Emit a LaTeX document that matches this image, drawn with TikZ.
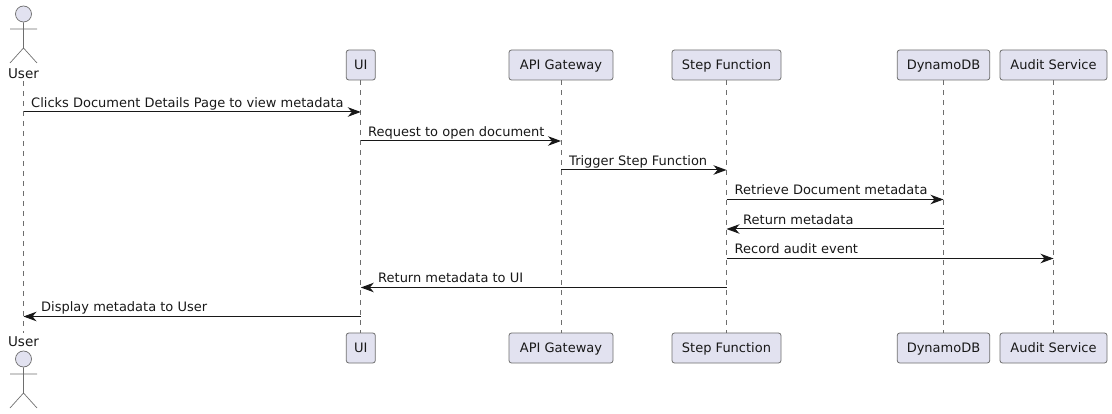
\documentclass[tikz,border=0pt]{standalone}
\usepackage{fontspec}
\setmainfont{DejaVu Sans}
\usetikzlibrary{arrows.meta}
\definecolor{pfill}{HTML}{E2E2F0}
\definecolor{pline}{HTML}{6E6E6E}
\definecolor{ink}{HTML}{181818}
\tikzset{
  x=1pt,y=-1pt,
  part/.style={draw=pline,fill=pfill,rounded corners=2.5pt,line width=0.8pt,minimum height=30pt,inner sep=0pt,text=ink,font=\fontsize{13}{15}\selectfont,text height=9.5pt,text depth=0pt},
  life/.style={draw=pline,line width=0.7pt,dash pattern=on 5pt off 5pt},
  msg/.style={draw=ink,line width=1pt,-{Stealth[length=13pt,width=9.5pt,inset=4pt]}},
  lbl/.style={anchor=base west,inner sep=0pt,text=ink,font=\fontsize{13}{15}\selectfont},
  stick/.style={draw=pline,line width=0.7pt},
  head/.style={draw=pline,fill=pfill,line width=0.7pt,circle,minimum size=16pt,inner sep=0pt},
  aname/.style={inner sep=0pt,text=ink,font=\fontsize{13.5}{15}\selectfont,anchor=base},
}
\begin{document}
\begin{tikzpicture}
\useasboundingbox (0,0) rectangle (1112,414);
\coordinate (ut) at (23.5,81);
\coordinate (ub) at (23.5,333);
\foreach \n/\xc/\w/\t in {ui/360.8/29/UI,api/561/104/API Gateway,sf/726.5/109/Step Function,db/943.5/92.5/DynamoDB,au/1053.5/107/Audit Service}{
  \node[part,minimum width=\w pt] (\n t) at (\xc,65) {\t};
  \node[part,minimum width=\w pt] (\n b) at (\xc,348) {\t};
}
\draw[life] (ut) -- (ub);
\foreach \n in {ui,api,sf,db,au}{\draw[life] (\n t.south) -- (\n b.north);}
% actors
\node[aname] (user1) at (23.5,78.5) {User};
\node[aname] (user2) at (23.5,346.5) {User};
\node[head] (h1) at (23.5,14) {};
\node[head] (h2) at (23.5,359) {};
\coordinate (b1) at (23.5,48);
\coordinate (b2) at (23.5,393);
\draw[stick] (h1.south) -- (b1) (10,29) -- (37,29) (10,63) -- (b1) -- (37,63);
\draw[stick] (h2.south) -- (b2) (10,374) -- (37,374) (10,408) -- (b2) -- (37,408);
% messages
\coordinate (m1a) at (ut |- 0,112);
\draw[msg] (m1a) -- (uit.south |- m1a);
\coordinate (m2a) at (uit.south |- 0,141);
\draw[msg] (m2a) -- (apit.south |- m2a);
\coordinate (m3a) at (apit.south |- 0,170);
\draw[msg] (m3a) -- (sft.south |- m3a);
\coordinate (m4a) at (sft.south |- 0,199.5);
\draw[msg] (m4a) -- (dbt.south |- m4a);
\coordinate (m5a) at (dbt.south |- 0,229);
\draw[msg] (m5a) -- (sft.south |- m5a);
\coordinate (m6a) at (sft.south |- 0,258.5);
\draw[msg] (m6a) -- (aut.south |- m6a);
\coordinate (m7a) at (sft.south |- 0,287.5);
\draw[msg] (m7a) -- (uit.south |- m7a);
\coordinate (m8a) at (uit.south |- 0,316.5);
\draw[msg] (m8a) -- (ut |- m8a);
\node[lbl] (l1) at (31,108) {Clicks Document Details Page to view metadata};
\node[lbl] (l2) at (368,137) {Request to open document};
\node[lbl] (l3) at (569,166) {Trigger Step Function};
\node[lbl] (l4) at (734.5,195) {Retrieve Document metadata};
\node[lbl] (l5) at (743,224.5) {Return metadata};
\node[lbl] (l6) at (734.5,254) {Record audit event};
\node[lbl] (l7) at (378,283) {Return metadata to UI};
\node[lbl] (l8) at (41,312) {Display metadata to User};
\end{tikzpicture}
\end{document}
